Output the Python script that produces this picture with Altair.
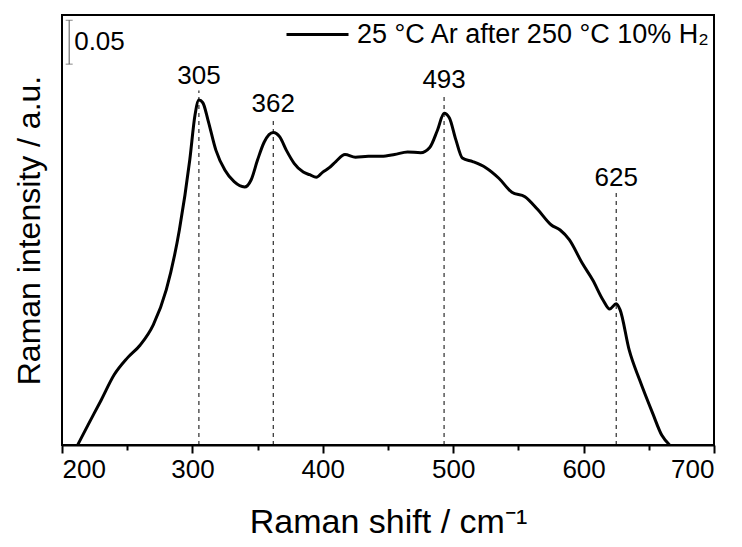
import altair as alt
import pandas as pd

FONT = "Liberation Sans"

# Raman spectrum
shift = [212, 220, 230, 240, 250, 260, 270, 280, 290, 298, 302, 305, 308, 312, 318,
         325, 332, 340, 345, 350, 355, 362, 367, 372, 378, 385, 390, 395, 400, 405,
         410, 417, 425, 435, 445, 455, 465, 475, 482, 488, 493, 497, 502, 507, 515,
         525, 535, 545, 555, 565, 575, 582, 589, 599, 607, 615, 620, 625, 628, 635,
         643, 653, 660, 666]
intensity = [0.000, 0.023, 0.051, 0.080, 0.099, 0.114, 0.137, 0.177, 0.245, 0.325,
             0.376, 0.393, 0.390, 0.370, 0.336, 0.313, 0.300, 0.294, 0.302, 0.325,
             0.345, 0.356, 0.351, 0.336, 0.321, 0.311, 0.308, 0.305, 0.311, 0.316,
             0.323, 0.331, 0.328, 0.329, 0.329, 0.331, 0.334, 0.333, 0.339, 0.359,
             0.378, 0.373, 0.348, 0.327, 0.323, 0.316, 0.304, 0.288, 0.283, 0.268,
             0.251, 0.245, 0.234, 0.207, 0.188, 0.165, 0.155, 0.161, 0.154, 0.108,
             0.074, 0.036, 0.011, 0.000]
series_name = "25 °C Ar after 250 °C 10% H\u2082"

# peak annotations
peaks = [305, 362, 493, 625]
peak_label_y = [0.411, 0.379, 0.407, 0.295]
peak_line_top = [0.404, 0.372, 0.400, 0.288]

# scale bar (0.05 a.u.)
bar_x = [205.5]
bar_y0 = [0.434]
bar_y1 = [0.484]
bar_text_y = [0.459]
bar_text = ["0.05"]

major_ticks = [200, 300, 400, 500, 600, 700]
minor_ticks = [250, 350, 450, 550, 650]

spec_df = pd.DataFrame({"shift": shift, "intensity": intensity, "series": series_name})
peak_df = pd.DataFrame({"shift": peaks, "ly": peak_label_y, "top": peak_line_top,
                        "label": [str(p) for p in peaks], "zero": 0.0})
bar_df = pd.DataFrame({"x": bar_x, "y0": bar_y0, "y1": bar_y1, "ty": bar_text_y,
                       "t": bar_text})

xscale = alt.Scale(domain=[200, 700], nice=False, zero=False)
yscale = alt.Scale(domain=[0, 0.49], nice=False, zero=False)


def X(field):
    return alt.X(field, scale=xscale, axis=None)


def Y(field):
    return alt.Y(field, scale=yscale, axis=None)


line = alt.Chart(spec_df).mark_line(strokeWidth=3, interpolate="monotone").encode(
    x=alt.X("shift:Q", scale=xscale,
            axis=alt.Axis(values=major_ticks, title="Raman shift / cm\u207b\u00b9",
                          orient="bottom", format="d", tickSize=8, tickWidth=2,
                          tickColor="black", domainColor="black", domainWidth=2,
                          grid=False, labelFont=FONT, labelFontSize=26,
                          labelColor="black", labelPadding=3, titleFont=FONT,
                          titleFontSize=34, titleFontWeight="normal",
                          titleColor="black", titlePadding=23)),
    y=alt.Y("intensity:Q", scale=yscale,
            axis=alt.Axis(title="Raman intensity / a.u.", orient="left", labels=False,
                          ticks=False, domain=False, grid=False, titleFont=FONT,
                          titleFontSize=32, titleFontWeight="normal",
                          titleColor="black", titlePadding=16)),
    color=alt.Color("series:N", scale=alt.Scale(range=["black"]),
                    legend=alt.Legend(orient="none", legendX=223, legendY=-13, title=None,
                                      symbolType="stroke", symbolSize=3844,
                                      symbolStrokeWidth=3, labelFont=FONT,
                                      labelFontSize=27, labelColor="black",
                                      labelOffset=7, labelLimit=0, padding=0)),
)

minor_axis = alt.Chart(peak_df).mark_rule(strokeDash=[4, 4], strokeWidth=1,
                                          color="black").encode(
    x=alt.X("shift:Q", scale=xscale,
            axis=alt.Axis(values=minor_ticks, orient="bottom", labels=False,
                          tickSize=5, tickWidth=2, tickColor="black", domain=False,
                          grid=False, title=None)),
    y=Y("zero:Q"),
    y2="top:Q",
)

labels = alt.Chart(peak_df).mark_text(font=FONT, fontSize=26, color="black",
                                      baseline="alphabetic", align="center").encode(
    x=X("shift:Q"), y=Y("ly:Q"), text="label:N")

bar = alt.Chart(bar_df).mark_rule(color="#555555", strokeWidth=1).encode(
    x=X("x:Q"), y=Y("y0:Q"), y2="y1:Q")
cap_lo = alt.Chart(bar_df).mark_tick(orient="horizontal", size=7, thickness=1,
                                     color="#555555").encode(x=X("x:Q"), y=Y("y0:Q"))
cap_hi = alt.Chart(bar_df).mark_tick(orient="horizontal", size=7, thickness=1,
                                     color="#555555").encode(x=X("x:Q"), y=Y("y1:Q"))
bar_label = alt.Chart(bar_df).mark_text(font=FONT, fontSize=26, color="black",
                                        align="left", baseline="middle", dx=5).encode(
    x=X("x:Q"), y=Y("ty:Q"), text="t:N")

chart = alt.layer(line, minor_axis, labels, bar, cap_lo, cap_hi, bar_label).resolve_axis(
    x="independent", y="independent"
).properties(
    width=652, height=430,
    autosize=alt.AutoSizeParams(type="none"),
    padding={"left": 62, "top": 15, "right": 28, "bottom": 102},
    background="white",
).configure_view(stroke="black", strokeWidth=2)

chart.save("out.html", embed_options={"renderer": "svg", "actions": False})
